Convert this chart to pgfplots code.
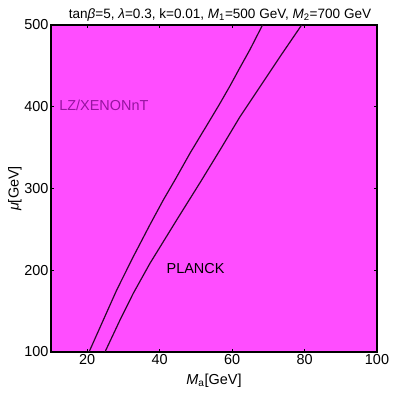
\documentclass[border=0pt]{standalone}
\usepackage{fontspec}
\setmainfont{Liberation Sans}
\usepackage{pgfplots}
\pgfplotsset{compat=1.18}
\definecolor{bgmag}{RGB}{255,77,255}
\definecolor{lzpurple}{RGB}{150,20,160}
\definecolor{curve}{RGB}{40,10,40}

\begin{document}
\begin{tikzpicture}
\begin{axis}[
  scale only axis,
  width=326bp, height=327bp,
  xmin=10, xmax=100, ymin=100, ymax=500,
  xtick={20,40,60,80,100},
  ytick={100,200,300,400,500},
  tick align=inside,
  major tick length=3bp,
  tick style={black, line width=0.6pt},
  axis line style={line width=1.6pt},
  axis background/.style={fill=bgmag},
  tick label style={font=\fontsize{14.5}{17}\selectfont},
  label style={font=\fontsize{14.5}{17}\selectfont},
  /pgf/number format/assume math mode=true,
  xticklabel style={yshift=1bp},
  yticklabel style={xshift=1bp},
  xlabel={\textit{M}\textsubscript{a}[GeV]},
  ylabel={\textit{μ}[GeV]},
  xlabel style={yshift=-2bp},
  ylabel style={yshift=-4bp},
  title={tan\textit{β}=5, \textit{λ}=0.3, k=0.01, \textit{M}\textsubscript{1}=500 GeV, \textit{M}\textsubscript{2}=700 GeV},
  title style={yshift=-6bp, xshift=6bp, font=\fontsize{13.6}{16}\selectfont},
]
% LZ/XENONnT boundary
\addplot[curve, line width=1.2bp] coordinates {
  (20.5,100) (24.44,139.1) (28.14,175.8) (32.72,216.6) (37.33,255.8)
  (41.0,285.9) (44.23,310.5) (48.37,343.1) (52.98,377.0) (56.66,404.2)
  (59.42,425.5) (62.18,448.0) (64.94,470.0) (68.4,500)
};
% PLANCK boundary
\addplot[curve, line width=1.2bp] coordinates {
  (24.9,100) (29.05,139.1) (32.72,171.8) (37.33,208.5) (44.70,261.5)
  (51.60,310.4) (56.66,347.1) (62.18,387.8) (67.70,424.5) (73.22,461.2)
  (79.2,500)
};
\node[text=lzpurple, font=\fontsize{14.5}{17}\selectfont] at (axis cs:24.6,402) {LZ/XENONnT};
\node[font=\fontsize{14.5}{17}\selectfont] at (axis cs:49.9,201.5) {PLANCK};
\end{axis}
\useasboundingbox (-51bp,-42bp) rectangle (339bp,352bp);
\end{tikzpicture}
\end{document}
